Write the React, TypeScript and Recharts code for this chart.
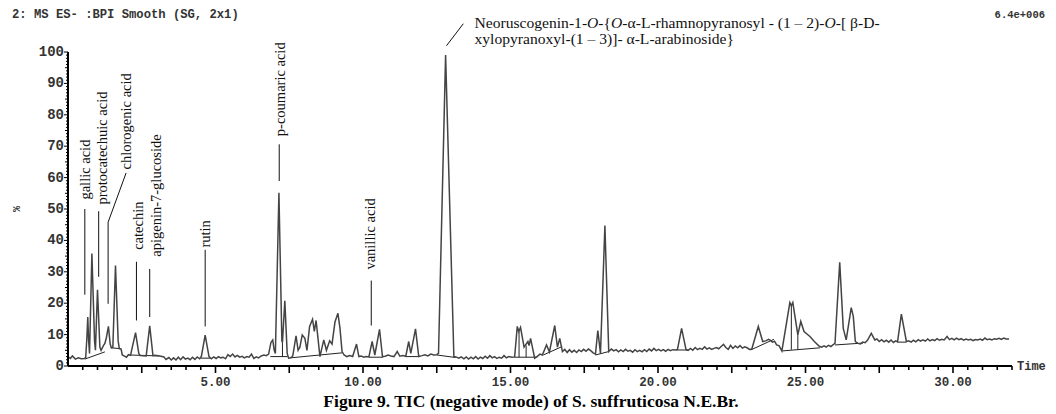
import React from 'react';
import { LineChart, Line, XAxis, YAxis, ReferenceLine, ReferenceDot } from 'recharts';

// BPI trace: [time (min), relative intensity (%)]
const TRACE: [number, number][] = [
  [0.0, 3.0], [0.08, 2.4], [0.15, 3.2], [0.25, 2.2], [0.35, 2.6], [0.45, 2.3], [0.55, 2.4],
  [0.6, 2.6], [0.64, 9], [0.67, 15.6], [0.7, 8], [0.73, 4], [0.81, 35.8], [0.9, 8],
  [0.93, 5], [1.0, 24.3], [1.08, 6], [1.12, 5], [1.2, 6.5], [1.25, 7.2], [1.3, 9],
  [1.37, 12.6], [1.43, 7], [1.47, 5.8], [1.52, 6], [1.61, 32], [1.7, 8], [1.74, 5.5],
  [1.8, 5.4], [1.84, 3.5], [1.9, 3.2], [1.98, 2.8], [2.05, 3.6], [2.12, 3.4],
  [2.18, 6], [2.29, 10.6], [2.4, 4], [2.45, 3.3], [2.65, 3.2], [2.77, 12.8], [2.88, 3.3],
  [2.95, 3.4], [3.05, 3.3], [3.15, 3.1], [3.25, 2.9], [3.32, 2.1], [3.42, 2.7], [3.5, 1.9],
  [3.58, 2.6], [3.66, 1.9], [3.74, 2.8], [3.82, 2.0], [3.9, 2.9], [3.98, 2.2], [4.06, 2.5],
  [4.14, 2.0], [4.22, 2.8], [4.3, 2.1], [4.38, 2.9], [4.46, 2.3], [4.52, 3], [4.65, 9.8],
  [4.78, 3], [4.86, 2.3], [4.94, 2.9], [5.02, 2.4], [5.1, 3.0], [5.18, 2.6], [5.26, 2.8],
  [5.34, 2.3], [5.42, 3.6], [5.5, 3.0], [5.58, 3.8], [5.66, 2.9], [5.74, 3.4], [5.82, 2.8],
  [5.9, 3.1], [5.98, 2.6], [6.06, 3.0], [6.14, 2.8], [6.22, 3.8], [6.3, 2.4], [6.38, 2.9],
  [6.46, 2.6], [6.55, 3.2], [6.64, 3.5], [6.72, 3.3], [6.8, 3.8], [6.88, 7.5], [6.94, 8.3],
  [6.99, 5], [7.03, 4], [7.15, 55.2], [7.25, 8], [7.27, 7.5], [7.35, 20.8], [7.43, 4],
  [7.48, 2.5], [7.55, 2.6], [7.62, 3.2], [7.73, 9.6], [7.8, 5], [7.86, 6], [7.94, 9.9],
  [8.03, 8.8], [8.1, 5], [8.19, 12.6], [8.29, 14.9], [8.35, 11], [8.41, 14.5], [8.54, 3],
  [8.67, 8.3], [8.76, 5], [8.87, 8], [8.95, 7], [9.05, 14], [9.15, 16.8], [9.22, 12],
  [9.29, 4.6], [9.36, 3.5], [9.45, 3.0], [9.55, 3.3], [9.65, 3.0], [9.78, 7.0], [9.86, 3.0],
  [9.94, 3.2], [10.02, 2.8], [10.1, 3.0], [10.2, 2.9], [10.31, 7.8], [10.4, 3.5],
  [10.56, 11.7], [10.66, 3], [10.75, 3.1], [10.85, 3.5], [10.95, 3.2], [11.05, 3.0],
  [11.16, 4.6], [11.25, 3.1], [11.35, 3.3], [11.45, 3.1], [11.55, 7.8], [11.62, 4],
  [11.78, 11.8], [11.89, 3], [12.0, 3.3], [12.1, 3.6], [12.2, 3.2], [12.3, 3.8], [12.4, 3.5],
  [12.5, 3.6], [12.56, 4], [12.8, 99], [13.08, 3], [13.15, 2.9], [13.25, 2.5], [13.33, 2.9],
  [13.42, 2.3], [13.5, 2.9], [13.58, 2.2], [13.66, 2.8], [13.74, 2.3], [13.82, 3.0],
  [13.9, 2.2], [13.98, 2.8], [14.06, 2.4], [14.14, 3.1], [14.22, 2.5], [14.3, 3.3],
  [14.38, 2.6], [14.46, 3.0], [14.54, 2.4], [14.62, 2.8], [14.7, 2.5], [14.78, 3.3],
  [14.86, 2.6], [14.94, 3.0], [15.05, 2.8], [15.14, 2.9], [15.23, 12.6], [15.28, 11],
  [15.34, 12.3], [15.46, 6], [15.59, 7.8], [15.63, 6.5], [15.68, 8.8], [15.82, 2.5],
  [15.9, 3.0], [16.0, 3.8], [16.08, 3.5], [16.22, 6.7], [16.32, 4.5], [16.5, 12.9],
  [16.59, 6], [16.67, 8.8], [16.76, 4.6], [16.84, 5.3], [16.92, 4.3], [17.0, 5.2],
  [17.08, 4.4], [17.16, 5.0], [17.24, 4.3], [17.32, 5.1], [17.4, 4.6], [17.48, 5.3],
  [17.56, 4.7], [17.64, 5.4], [17.72, 4.9], [17.8, 4.2], [17.88, 3.8], [17.96, 11.3],
  [18.05, 4], [18.2, 44.7], [18.33, 4.6], [18.42, 5.4], [18.5, 4.8], [18.58, 5.2],
  [18.66, 4.5], [18.74, 5.1], [18.82, 4.6], [18.9, 5.3], [18.98, 4.7], [19.06, 5.0],
  [19.14, 4.4], [19.22, 5.2], [19.3, 4.6], [19.38, 5.0], [19.46, 4.5], [19.54, 5.2],
  [19.62, 4.6], [19.7, 5.4], [19.78, 4.8], [19.86, 5.6], [19.94, 4.9], [20.02, 5.3],
  [20.1, 4.8], [20.18, 5.2], [20.26, 4.7], [20.34, 5.3], [20.42, 4.9], [20.5, 5.2],
  [20.6, 5.1], [20.66, 5.3], [20.8, 12], [20.95, 5.2], [21.02, 5.0], [21.1, 5.6],
  [21.18, 5.0], [21.26, 5.9], [21.34, 5.2], [21.42, 5.6], [21.5, 5.3], [21.58, 6.1],
  [21.66, 5.4], [21.74, 5.8], [21.82, 5.3], [21.9, 5.6], [21.98, 5.9], [22.06, 5.5],
  [22.14, 6.2], [22.22, 6.9], [22.3, 5.9], [22.38, 5.3], [22.46, 6.6], [22.54, 5.6],
  [22.62, 6.4], [22.7, 5.8], [22.78, 6.5], [22.86, 5.7], [22.94, 6.1], [23.02, 5.8],
  [23.1, 5.3], [23.18, 5.4], [23.4, 12.6], [23.55, 7.8], [23.65, 8], [23.75, 8.5],
  [23.81, 8.2], [23.88, 7.6], [23.95, 7.9], [24.02, 6.7], [24.1, 6.5], [24.2, 4.8],
  [24.47, 20.2], [24.52, 19.2], [24.57, 20.2], [24.74, 9.9], [24.84, 14.2], [24.95, 11],
  [25.15, 9.4], [25.3, 7.8], [25.45, 6.4], [25.55, 6.0], [25.63, 6.4], [25.7, 6.0],
  [25.78, 6.6], [25.86, 6.2], [25.94, 6.8], [26.0, 7.2], [26.16, 33], [26.28, 12],
  [26.38, 8.3], [26.55, 18.6], [26.62, 15.8], [26.69, 7.8], [26.78, 7.2], [26.86, 7.0],
  [26.94, 7.6], [27.02, 7.4], [27.1, 8.2], [27.23, 10.4], [27.35, 8.3], [27.42, 8.6],
  [27.5, 7.8], [27.58, 8.4], [27.66, 7.7], [27.74, 8.2], [27.82, 7.6], [27.9, 8.3],
  [27.98, 7.5], [28.06, 8.0], [28.12, 7.7], [28.25, 16.5], [28.42, 7.8], [28.5, 8.0],
  [28.58, 7.6], [28.66, 8.2], [28.74, 7.7], [28.82, 8.4], [28.9, 7.9], [28.98, 8.3],
  [29.06, 7.9], [29.14, 8.6], [29.22, 8.0], [29.3, 8.4], [29.38, 8.1], [29.46, 8.7],
  [29.54, 8.2], [29.62, 8.5], [29.7, 8.3], [29.8, 9.4], [29.88, 8.4], [29.96, 8.8],
  [30.04, 8.3], [30.12, 8.9], [30.2, 8.4], [30.28, 8.7], [30.36, 8.2], [30.44, 8.6],
  [30.52, 8.3], [30.6, 8.5], [30.68, 8.1], [30.76, 8.4], [30.84, 8.3], [30.92, 8.6],
  [31.0, 8.2], [31.08, 8.9], [31.16, 8.4], [31.24, 8.6], [31.32, 8.3], [31.4, 8.7],
  [31.48, 8.5], [31.56, 8.8], [31.64, 8.5], [31.72, 8.9], [31.8, 8.6], [31.9, 8.6],
];

// integration baselines drawn under peaks: [t1, v1, t2, v2]
const BASELINES: [number, number, number, number][] = [
  [0.57, 2.2, 1.25, 4.5], [1.45, 5.8, 1.8, 5.5], [2.1, 3.5, 3.1, 3.2], [4.5, 2.5, 4.82, 2.5],
  [6.86, 3.0, 7.45, 3.0], [7.55, 2.6, 9.3, 4.2], [10.2, 2.8, 10.68, 2.8], [11.45, 3.0, 11.92, 3.0],
  [12.51, 3.5, 13.14, 2.7], [15.14, 2.8, 15.9, 2.8], [16.11, 3.5, 16.75, 6.2],
  [17.88, 3.5, 18.33, 4.6], [20.63, 5.1, 21.02, 5.1], [23.14, 5.1, 23.93, 8.5],
  [24.21, 4.8, 25.5, 5.8], [26.0, 6.7, 26.95, 7.3], [28.12, 7.6, 28.42, 7.6],
];

// vertical peak split lines: [t, low, high]
const DROPS: [number, number, number][] = [
  [7.27, 3.0, 7.5], [15.29, 2.8, 11], [15.53, 2.8, 6.5], [24.52, 5.2, 19.2], [24.74, 5.3, 9.9],
];

// label leader lines: [t1, v1, t2, v2]
const LEADERS: [number, number, number, number][] = [
  [0.57, 22.7, 0.57, 50], [1.04, 28.4, 1.04, 49.3], [1.36, 19.8, 1.36, 45.8],
  [1.36, 45.8, 1.97, 61.5], [2.32, 14.5, 2.32, 33.2], [2.77, 15.6, 2.77, 30.9],
  [4.65, 12.6, 4.65, 37], [7.16, 58.9, 7.16, 70.6], [10.28, 12.9, 10.28, 27.2],
  [12.83, 102, 13.4, 109],
];

const COMPOUNDS = [
  'gallic acid', 'protocatechuic acid', 'chlorogenic acid', 'catechin',
  'apigenin-7-glucoside', 'rutin', 'p-coumaric acid', 'vanillic acid',
];
// where each rotated name starts (bottom end), in axis units
const COMPOUND_ANCHORS: [number, number][] = [
  [0.56, 53], [1.14, 51.4], [1.98, 62.6], [2.36, 37], [2.97, 34.8], [4.66, 37.7], [7.2, 73.2], [10.25, 30.7],
];

const X_LABELS = [5, 10, 15, 20, 25, 30];
const Y_LABELS = [0, 10, 20, 30, 40, 50, 60, 70, 80, 90, 100];
const X_TICKS = Array.from({ length: 64 }, (_, i) => (i + 1) * 0.5);
const Y_TICKS = Array.from({ length: 101 }, (_, i) => i);

const MONO = '"Liberation Mono", "DejaVu Sans Mono", monospace';
const SERIF = '"Liberation Serif", "DejaVu Serif", serif';

const data = TRACE.map(([t, v]) => ({ t, v }));

const XTick = (props: any) => {
  const { x, y, payload } = props;
  const v = payload.value;
  const major = Math.abs(v / 2.5 - Math.round(v / 2.5)) < 1e-6;
  return (
    <g>
      <line x1={x} x2={x} y1={y} y2={y + (major ? 7 : 4)} stroke="#000" strokeWidth={1.6} />
      {X_LABELS.includes(v) && (
        <text x={x} y={y + 20} textAnchor="middle" fontFamily={MONO} fontWeight="bold" fontSize={12.5} fill="#333">
          {v.toFixed(2)}
        </text>
      )}
    </g>
  );
};

const YTick = (props: any) => {
  const { x, y, payload } = props;
  const v = payload.value;
  const len = v % 10 === 0 ? 4 : v % 5 === 0 ? 3 : 2;
  return (
    <g>
      <line x1={x - len} x2={x} y1={y} y2={y} stroke="#000" strokeWidth={1} />
      {Y_LABELS.includes(v) && (
        <text x={x - 4} y={y} textAnchor="end" dominantBaseline="central" fontFamily={MONO} fontWeight="bold" fontSize={14} fill="#333">
          {v}
        </text>
      )}
    </g>
  );
};

const App = () => {
  return (
    <div style={{ position: 'absolute', left: 0, top: 0, width: 1056, height: 414, background: '#fff' }}>
      <LineChart width={1056} height={414} data={data} margin={{ top: 52, right: 44, bottom: 18, left: 8 }}>
        <XAxis
          dataKey="t"
          type="number"
          domain={[0, 32]}
          ticks={X_TICKS}
          interval={0}
          tick={<XTick />}
          tickLine={false}
          tickSize={0}
          tickMargin={0}
          height={30}
          axisLine={{ stroke: '#000', strokeWidth: 2 }}
        />
        <YAxis
          type="number"
          domain={[0, 100]}
          ticks={Y_TICKS}
          interval={0}
          tick={<YTick />}
          tickLine={false}
          tickSize={0}
          tickMargin={0}
          width={60}
          axisLine={{ stroke: '#000', strokeWidth: 2 }}
        />
        {BASELINES.map(([t1, v1, t2, v2], i) => (
          <ReferenceLine key={`b-${i}`} segment={[{ x: t1, y: v1 }, { x: t2, y: v2 }]} stroke="#222" strokeWidth={1} ifOverflow="visible" />
        ))}
        {DROPS.map(([t, lo, hi], i) => (
          <ReferenceLine key={`d-${i}`} segment={[{ x: t, y: lo }, { x: t, y: hi }]} stroke="#222" strokeWidth={1} ifOverflow="visible" />
        ))}
        {LEADERS.map(([t1, v1, t2, v2], i) => (
          <ReferenceLine key={`l-${i}`} segment={[{ x: t1, y: v1 }, { x: t2, y: v2 }]} stroke="#111" strokeWidth={1} ifOverflow="visible" />
        ))}
        <Line type="linear" dataKey="v" stroke="#444" strokeWidth={1.5} dot={false} isAnimationActive={false} />
        {COMPOUNDS.map((name, i) => (
          <ReferenceDot
            key={name}
            x={COMPOUND_ANCHORS[i][0]}
            y={COMPOUND_ANCHORS[i][1]}
            r={0}
            ifOverflow="visible"
            shape={(p: any) => (
              <text
                x={p.cx}
                y={p.cy}
                transform={`rotate(-90 ${p.cx} ${p.cy})`}
                dominantBaseline="central"
                fontFamily={SERIF}
                fontSize={14.5}
                fill="#111"
              >
                {name}
              </text>
            )}
          />
        ))}
        <ReferenceDot
          x={13.78}
          y={107.5}
          r={0}
          ifOverflow="visible"
          shape={(p: any) => (
            <text x={p.cx} y={p.cy} fontFamily={SERIF} fontSize={15.6} fill="#111">
              <tspan>Neoruscogenin-1-</tspan>
              <tspan fontStyle="italic">O</tspan>
              <tspan>-{'{'}</tspan>
              <tspan fontStyle="italic">O</tspan>
              <tspan>-α-L-rhamnopyranosyl - (1 – 2)-</tspan>
              <tspan fontStyle="italic">O</tspan>
              <tspan>-[ β-D-</tspan>
              <tspan x={p.cx} dy={15.5}>xylopyranoxyl-(1 – 3)]- α-L-arabinoside{'}'}</tspan>
            </text>
          )}
        />
      </LineChart>
      <svg width={1056} height={414} style={{ position: 'absolute', left: 0, top: 0, pointerEvents: 'none' }}>
        <text x={12} y={18} fontFamily={MONO} fontWeight="bold" fontSize={12.2} fill="#333">
          2: MS ES- :BPI Smooth (SG, 2x1)
        </text>
        <text x={1045} y={18} textAnchor="end" fontFamily={MONO} fontWeight="bold" fontSize={10.5} fill="#333">
          6.4e+006
        </text>
        <text x={17} y={209} transform="rotate(-90 17 209)" textAnchor="middle" dominantBaseline="central" fontFamily={MONO} fontWeight="bold" fontSize={10} fill="#333">
          %
        </text>
        <text x={1017} y={370} fontFamily={MONO} fontWeight="bold" fontSize={12} fill="#333">
          Time
        </text>
        <text x={531} y={407} textAnchor="middle" fontFamily={SERIF} fontWeight="bold" fontSize={17.5} fill="#000">
          Figure 9. TIC (negative mode) of S. suffruticosa N.E.Br.
        </text>
      </svg>
    </div>
  );
};

export default App;
